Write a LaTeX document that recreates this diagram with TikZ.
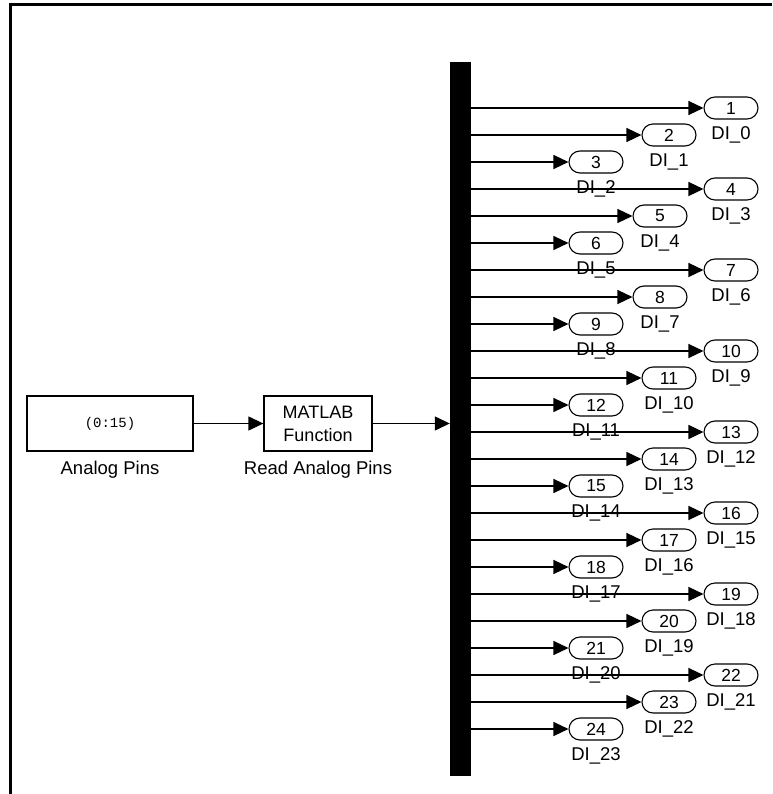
\documentclass[tikz,border=0pt]{standalone}
\usepackage{fontspec}
\setmainfont{Liberation Sans}
\setmonofont{Liberation Mono}
\usetikzlibrary{arrows.meta,positioning,shapes.misc}
\tikzset{
  blockbox/.style={draw,line width=1.3pt,minimum height=55pt,align=center,
    inner sep=0pt,font=\fontsize{18}{23}\selectfont},
  portbox/.style={draw,rounded rectangle,line width=1.1pt,minimum width=54pt,
    minimum height=22pt,inner sep=0pt,font=\fontsize{17.5}{17.5}\selectfont},
  blocklabel/.style={inner sep=0pt,font=\fontsize{18.5}{18.5}\selectfont},
  signal/.style={-{Triangle[length=15pt,width=14pt]},line width=1.3pt},
}
\begin{document}
\begin{tikzpicture}[x=1pt,y=-1pt]
  \useasboundingbox (0,0) rectangle (772,794);
  \clip (0,0) rectangle (772,794);
  % window frame
  \draw[line width=3pt] (10,794) -- (10,5) -- (772,5);
  \node[blockbox,minimum width=166pt] (pins) at (110,423.5)
    {\fontsize{14}{14}\selectfont\ttfamily (0:15)};
  \node[blocklabel,below=9pt of pins] (pinslbl) {Analog Pins};
  \node[blockbox,minimum width=108pt] (fcn) at (318,423.5) {MATLAB\\Function};
  \node[blocklabel,below=9pt of fcn] (fcnlbl) {Read Analog Pins};
  \node[fill=black,minimum width=21pt,minimum height=714pt,inner sep=0pt]
    (demux) at (460.5,419) {};
  \draw[signal] (pins) -- (fcn);
  \draw[signal] (fcn.east) -- (fcn.east -| demux.west);
  % output ports
  \foreach \i/\px in {1/731,2/669,3/596,4/731,5/660,6/596,7/731,8/660,
      9/596,10/731,11/669,12/596,13/731,14/669,15/596,16/731,17/669,18/596,
      19/731,20/669,21/596,22/731,23/669,24/596}{
    \pgfmathtruncatemacro{\j}{\i-1}
    \node[portbox] (p\i) at (\px,{108+(\i-1)*27}) {\i};
    \node[blocklabel,below=7pt of p\i] (l\i) {DI\_\j};
    \draw[signal] (demux.east |- p\i.west) -- (p\i.west);
  }
\end{tikzpicture}
\end{document}
